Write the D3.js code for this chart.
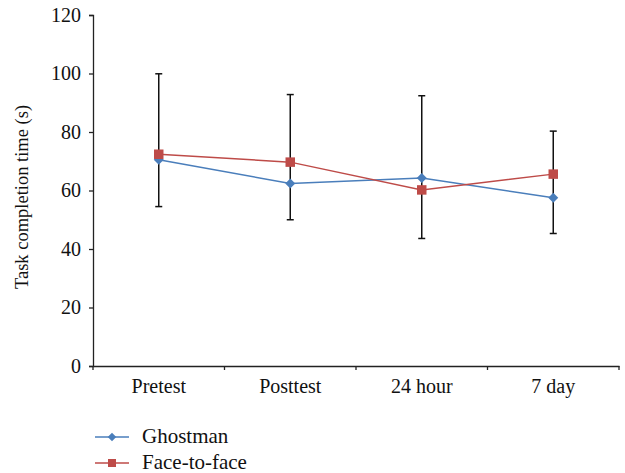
<!DOCTYPE html>
<html><head><meta charset="utf-8">
<script src="https://cdn.jsdelivr.net/npm/d3@7/dist/d3.min.js"></script>
<style>body{margin:0;background:#fff}text{font-family:"Liberation Serif","DejaVu Serif",serif;fill:#111}</style>
</head><body><svg id="c" width="625" height="473"></svg>
<script>
const categories = ["Pretest","Posttest","24 hour","7 day"];
const ghostman = [70.5, 62.4, 64.3, 57.5];
const faceToFace = [72.4, 69.7, 60.2, 65.6];
const errorHigh = [99.9, 92.8, 92.4, 80.3];
const errorLow = [54.5, 50.0, 43.6, 45.3];
const yTicks = [0,20,40,60,80,100,120];
const seriesNames = ["Ghostman","Face-to-face"];

const svg = d3.select("#c");
const x = d3.scaleBand().domain(categories).range([93, 619]);
const y = d3.scaleLinear().domain([0,120]).range([366, 15]);

const yAxis = svg.append("g").attr("transform","translate(93,0)")
  .call(d3.axisLeft(y).tickValues(yTicks).tickSize(4).tickPadding(8));
const xAxis = svg.append("g").attr("transform","translate(0,366)")
  .call(d3.axisBottom(x).tickSize(0).tickPadding(13));
[yAxis,xAxis].forEach(g=>{
  g.select(".domain").attr("stroke","#222").attr("stroke-width",1.3);
  g.selectAll("line").attr("stroke","#222").attr("stroke-width",1.3);
  g.selectAll("text").style("font-size","20px").attr("fill","#111").style("font-family","'Liberation Serif',serif");
});
const bounds = categories.map(c=>x(c)).concat([x.range()[1]]);
svg.append("g").selectAll("line").data(bounds).join("line")
  .attr("x1",d=>d).attr("x2",d=>d).attr("y1",366).attr("y2",370)
  .attr("stroke","#222").attr("stroke-width",1.3);

svg.append("text").attr("transform","translate(28,197) rotate(-90)")
  .attr("text-anchor","middle").style("font-size","18.5px").text("Task completion time (s)");

const cx = c => x(c) + x.bandwidth()/2;

const eb = svg.append("g");
categories.forEach((c,i)=>{
  eb.append("line").attr("x1",cx(c)).attr("x2",cx(c)).attr("y1",y(errorHigh[i])).attr("y2",y(errorLow[i]))
    .attr("stroke","#111").attr("stroke-width",1.5);
  [errorHigh[i],errorLow[i]].forEach(v=>{
    eb.append("line").attr("x1",cx(c)-3.5).attr("x2",cx(c)+3.5).attr("y1",y(v)).attr("y2",y(v))
      .attr("stroke","#111").attr("stroke-width",1.5);
  });
});

const colors = ["#4a7ebb","#be4b48"];
const line = d3.line().x((d,i)=>cx(categories[i])).y(d=>y(d));

[ghostman, faceToFace].forEach((vals,k)=>{
  svg.append("path").datum(vals).attr("d",line).attr("fill","none")
    .attr("stroke",colors[k]).attr("stroke-width",1.5);
});
svg.append("g").selectAll("path").data(ghostman).join("path")
  .attr("d",d3.symbol().type(d3.symbolSquare).size(50)).attr("fill",colors[0])
  .attr("transform",(d,i)=>`translate(${cx(categories[i])},${y(d)}) rotate(45)`);
svg.append("g").selectAll("path").data(faceToFace).join("path")
  .attr("transform",(d,i)=>`translate(${cx(categories[i])},${y(d)})`)
  .attr("d",d3.symbol().type(d3.symbolSquare).size(90)).attr("fill",colors[1]);

const leg = svg.append("g");
seriesNames.forEach((n,k)=>{
  const yy = 437 + k*26;
  leg.append("line").attr("x1",95).attr("x2",129).attr("y1",yy).attr("y2",yy)
    .attr("stroke",colors[k]).attr("stroke-width",1.5);
  const sym = leg.append("path").attr("fill",colors[k]);
  if(k===0) sym.attr("d",d3.symbol().type(d3.symbolSquare).size(36)).attr("transform",`translate(112,${yy}) rotate(45)`);
  else sym.attr("d",d3.symbol().type(d3.symbolSquare).size(64)).attr("transform",`translate(112,${yy})`);
  leg.append("text").attr("x",142).attr("y",yy+6).style("font-size","21px").text(n);
});
</script></body></html>
